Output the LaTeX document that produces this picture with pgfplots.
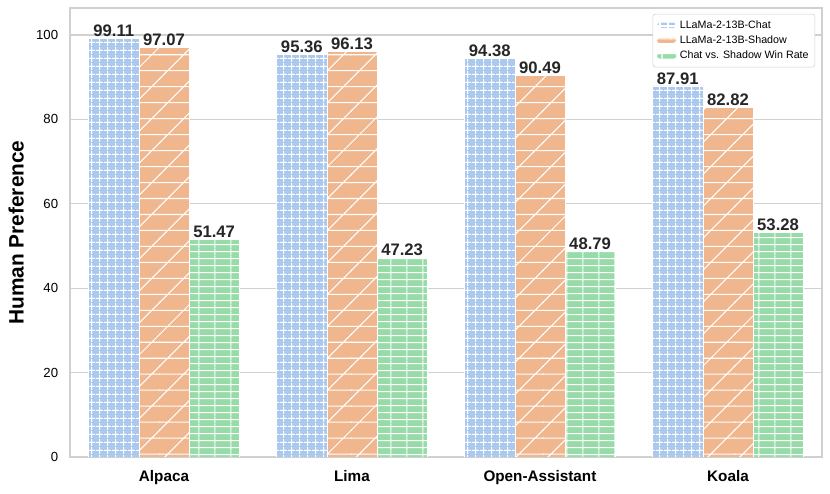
\documentclass[border=0pt]{standalone}
\usepackage{pgfplots}
\pgfplotsset{compat=1.18}
\usepackage{fontspec}
\setmainfont{Liberation Sans}
\usetikzlibrary{patterns}
\definecolor{cblue}{RGB}{171,201,238}
\definecolor{corange}{RGB}{240,182,142}
\definecolor{cgreen}{RGB}{151,220,168}
\definecolor{gridc}{RGB}{208,208,208}
\pgfdeclarepatternformonly{bgrid}{\pgfpointorigin}{\pgfpoint{5.76pt}{5.76pt}}{\pgfpoint{5.76pt}{5.76pt}}{%
  \pgfsetlinewidth{0.75pt}%
  \pgfpathmoveto{\pgfpoint{0pt}{2.88pt}}\pgfpathlineto{\pgfpoint{5.76pt}{2.88pt}}%
  \pgfpathmoveto{\pgfpoint{2.88pt}{0pt}}\pgfpathlineto{\pgfpoint{2.88pt}{5.76pt}}%
  \pgfusepath{stroke}}
\pgfdeclarepatternformonly{odiag}{\pgfpoint{-0.5pt}{-0.5pt}}{\pgfpoint{23.5pt}{23.5pt}}{\pgfpoint{23pt}{23pt}}{%
  \pgfsetlinewidth{0.75pt}%
  \pgfpathmoveto{\pgfpoint{-0.5pt}{5.75pt}}\pgfpathlineto{\pgfpoint{23.5pt}{5.75pt}}%
  \pgfpathmoveto{\pgfpoint{-0.5pt}{17.25pt}}\pgfpathlineto{\pgfpoint{23.5pt}{17.25pt}}%
  \pgfpathmoveto{\pgfpoint{-0.5pt}{-0.5pt}}\pgfpathlineto{\pgfpoint{23.5pt}{23.5pt}}%
  \pgfusepath{stroke}}
\pgfdeclarepatternformonly{ghl}{\pgfpointorigin}{\pgfpoint{11.5pt}{5.25pt}}{\pgfpoint{11.5pt}{5.25pt}}{%
  \pgfsetlinewidth{0.75pt}%
  \pgfpathmoveto{\pgfpoint{0pt}{2.6pt}}\pgfpathlineto{\pgfpoint{11.5pt}{2.6pt}}%
  \pgfpathmoveto{\pgfpoint{5.75pt}{0pt}}\pgfpathlineto{\pgfpoint{5.75pt}{5.25pt}}%
  \pgfusepath{stroke}}
\begin{document}
\begin{tikzpicture}
\path[use as bounding box] (-50.4pt,-26.64pt) rectangle (547.2pt,329.04pt);
\begin{axis}[
  at={(0,0)}, anchor=south west,
  scale only axis, width=541.4pt, height=323.3pt,
  xmin=-0.5, xmax=3.5, ymin=0, ymax=106.4,
  xtick={0,1,2,3},
  xticklabels={Alpaca,Lima,Open-Assistant,Koala},
  ytick={0,20,40,60,80,100},
  /pgf/number format/assume math mode=true,
  tick style={draw=none},
  ymajorgrids, grid style={gridc, line width=0.9pt},
  axis line style={gridc, line width=0.9pt},
  xticklabel style={font=\fontsize{11}{13}\selectfont\bfseries, yshift=-2pt},
  yticklabel style={font=\fontsize{9.5}{11}\selectfont, xshift=-5pt},
  ylabel={Human Preference},
  ylabel style={font=\fontsize{15}{17}\selectfont\bfseries, yshift=2pt},
  ybar, bar width=0.2667,
  nodes near coords,
  nodes near coords style={font=\fontsize{12}{14}\selectfont\bfseries, /pgf/number format/fixed, /pgf/number format/fixed zerofill, /pgf/number format/precision=2, inner sep=1pt, text=black!85},
  legend style={at={(0.991,0.987)}, anchor=north east, draw=gridc, rounded corners=2pt, fill=white, font=\fontsize{7.7}{9}\selectfont, row sep=0pt, inner sep=2.5pt},
  legend cell align=left,
  legend image code/.code={\draw[#1, draw=none] (0pt,-2.1pt) rectangle (14.4pt,2.1pt);},
]
\addplot[bar shift=-0.2667, fill=cblue, draw=white, line width=0.5pt, postaction={pattern=bgrid, pattern color=white}]
  coordinates {(0,99.11) (1,95.36) (2,94.38) (3,87.91)};
\addplot[bar shift=0, fill=corange, draw=white, line width=0.5pt, postaction={pattern=odiag, pattern color=white}]
  coordinates {(0,97.07) (1,96.13) (2,90.49) (3,82.82)};
\addplot[bar shift=0.2667, fill=cgreen, draw=white, line width=0.5pt, postaction={pattern=ghl, pattern color=white}]
  coordinates {(0,51.47) (1,47.23) (2,48.79) (3,53.28)};
\legend{LLaMa-2-13B-Chat, LLaMa-2-13B-Shadow, Chat vs. Shadow Win Rate}
\end{axis}
\end{tikzpicture}
\end{document}
